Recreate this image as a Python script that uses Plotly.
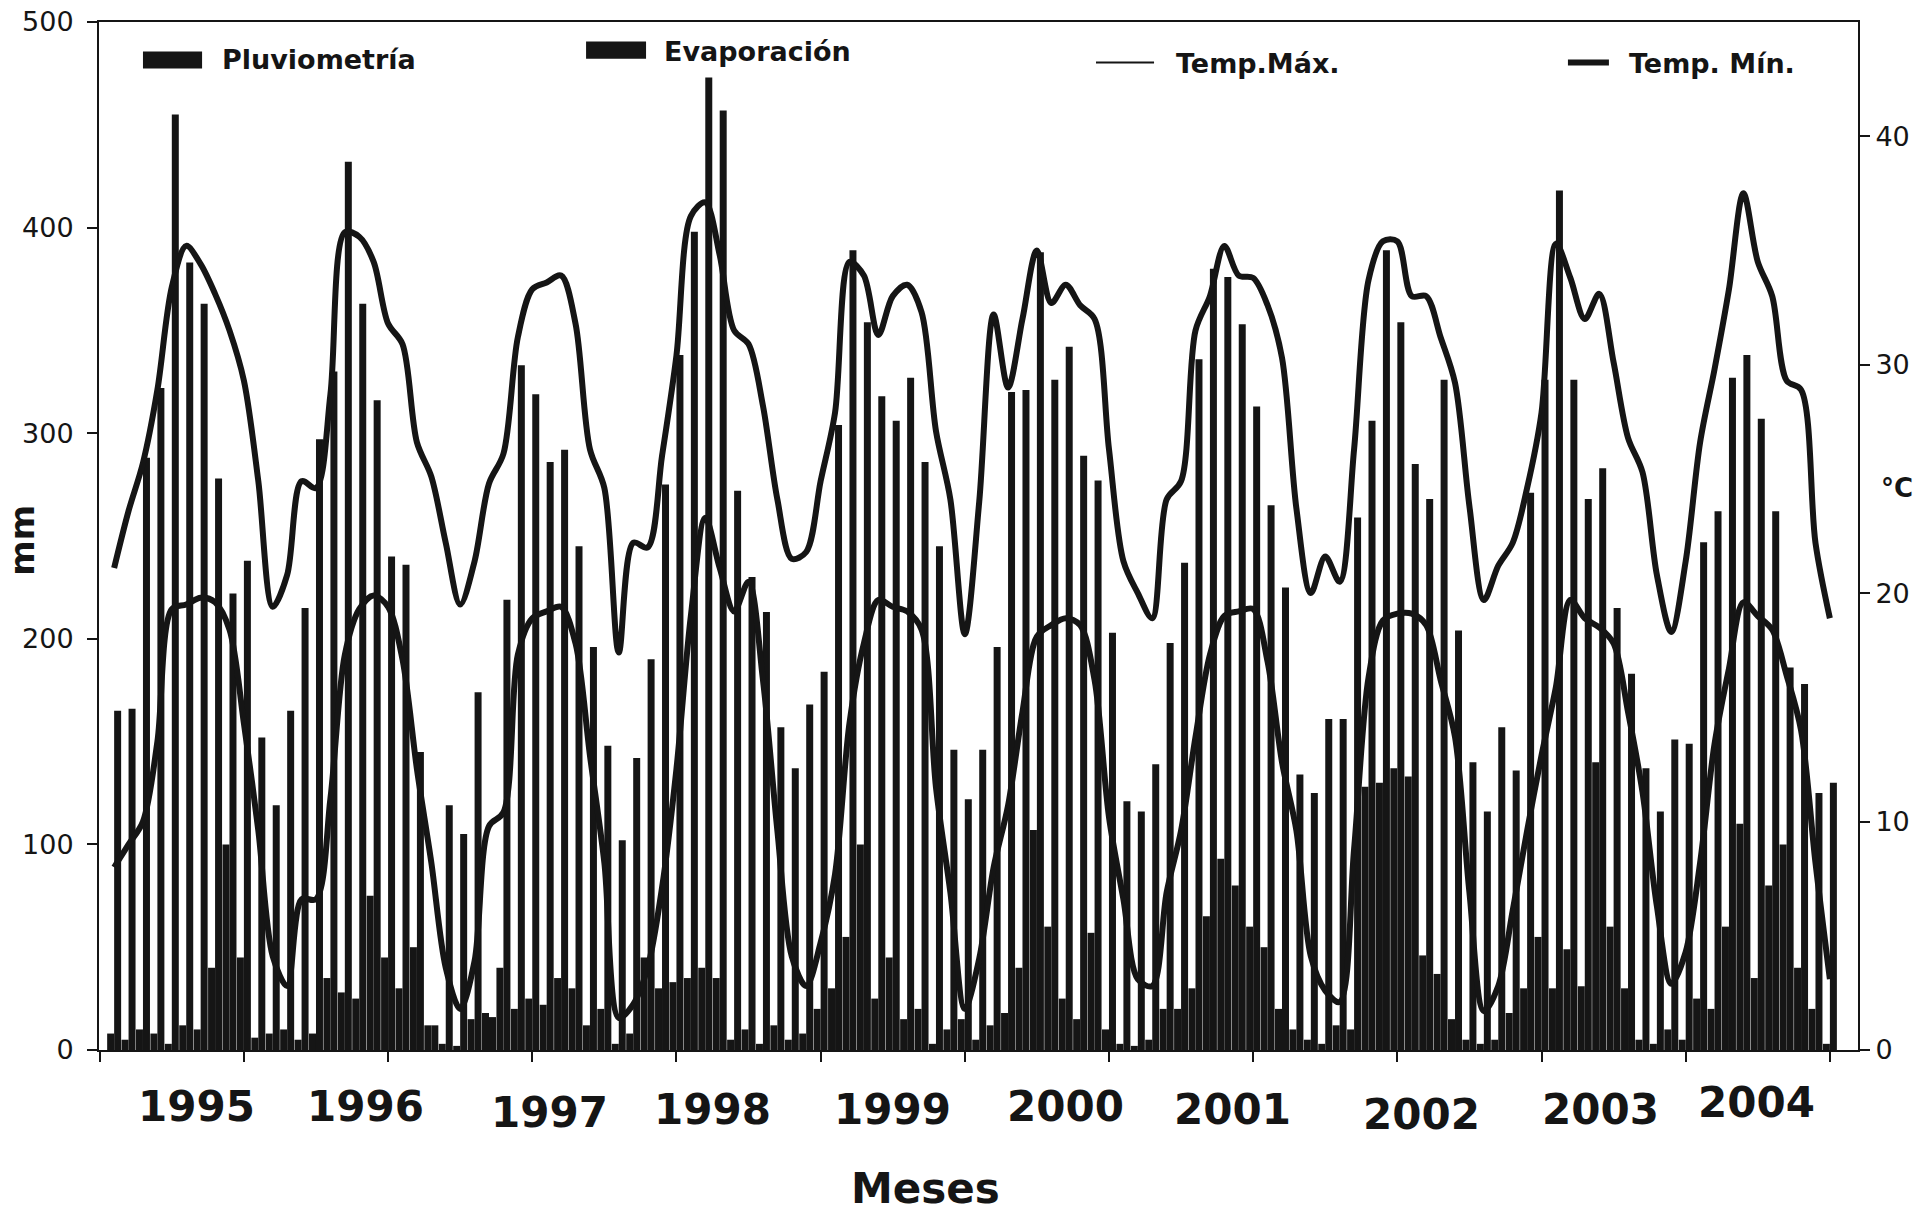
import plotly.graph_objects as go

# ---- monthly series, Jan 1995 .. Dec 2004 (120 months) ----
months = list(range(1, 121))

pluviometria = [
    8, 5, 10, 8, 3, 12, 10, 40, 100, 45, 6, 8,          # 1995
    10, 5, 8, 35, 28, 25, 75, 45, 30, 50, 12, 3,        # 1996
    2, 15, 18, 40, 20, 25, 22, 35, 30, 12, 20, 3,       # 1997
    8, 45, 30, 33, 35, 40, 35, 5, 10, 3, 12, 5,         # 1998
    8, 20, 30, 55, 100, 25, 45, 15, 20, 3, 10, 15,      # 1999
    5, 12, 18, 40, 107, 60, 25, 15, 57, 10, 3, 2,       # 2000
    5, 20, 20, 30, 65, 93, 80, 60, 50, 20, 10, 5,       # 2001
    3, 12, 10, 128, 130, 137, 133, 46, 37, 15, 5, 3,    # 2002
    5, 18, 30, 55, 30, 49, 31, 140, 60, 30, 5, 3,       # 2003
    10, 5, 25, 20, 60, 110, 35, 80, 100, 40, 20, 3,     # 2004
]

evaporacion = [
    165, 166, 288, 322, 455, 383, 363, 278, 222, 238, 152, 119,   # 1995
    165, 215, 297, 330, 432, 363, 316, 240, 236, 145, 12, 119,    # 1996
    105, 174, 16, 219, 333, 319, 286, 292, 245, 196, 148, 102,    # 1997
    142, 190, 275, 338, 398, 473, 457, 272, 230, 213, 157, 137,   # 1998
    168, 184, 304, 389, 354, 318, 306, 327, 286, 245, 146, 122,   # 1999
    146, 196, 320, 321, 388, 326, 342, 289, 277, 203, 121, 116,   # 2000
    139, 198, 237, 336, 380, 376, 353, 313, 265, 225, 134, 125,   # 2001
    161, 161, 259, 306, 389, 354, 285, 268, 326, 204, 140, 116,   # 2002
    157, 136, 271, 326, 418, 326, 268, 283, 215, 183, 137, 116,   # 2003
    151, 149, 247, 262, 327, 338, 307, 262, 186, 178, 125, 130,   # 2004
]

temp_max = [
    21.1, 23.6, 25.7, 28.9, 33.4, 35.2, 34.4, 33.1, 31.5, 29.3, 24.9, 19.4,
    20.8, 24.9, 24.6, 28.7, 35.8, 35.6, 34.5, 31.8, 30.9, 26.6, 25.1, 22.2,
    19.5, 21.4, 24.8, 26.1, 31.2, 33.3, 33.6, 33.9, 31.8, 26.3, 24.6, 17.4,
    22.2, 22.0, 26.0, 30.4, 36.5, 37.1, 34.8, 31.5, 30.9, 28.2, 24.1, 21.5,
    21.8, 24.9, 27.9, 34.5, 33.9, 31.3, 33.0, 33.5, 32.3, 27.1, 24.1, 18.2,
    24.0, 32.2, 29.0, 32.0, 35.0, 32.7, 33.5, 32.6, 32.0, 26.3, 21.4, 20.0,
    18.9, 24.1, 24.9, 31.5, 33.0, 35.2, 33.9, 33.8, 32.6, 30.3, 23.7, 20.0,
    21.6, 20.5, 26.3, 33.7, 35.4, 35.4, 33.0, 33.0, 31.2, 29.2, 23.8, 19.7,
    21.2, 22.2, 24.6, 27.9, 35.3, 33.8, 32.0, 33.1, 30.1, 26.8, 25.3, 20.8,
    18.3, 21.4, 26.6, 29.8, 33.3, 37.5, 34.5, 33.0, 29.3, 28.9, 22.2, 18.9,
]

temp_min = [
    8.0, 9.0, 10.0, 13.5, 19.3, 19.5, 19.8, 19.6, 18.4, 14.3, 9.6, 4.1,
    2.8, 6.6, 6.6, 11.0, 17.3, 19.3, 19.9, 19.4, 17.1, 12.3, 8.2, 3.6,
    1.8, 3.9, 9.8, 10.4, 17.3, 18.9, 19.2, 19.4, 17.8, 12.9, 8.2, 1.4,
    2.0, 3.6, 7.1, 12.3, 19.0, 23.3, 21.1, 19.2, 20.5, 16.2, 9.6, 4.1,
    2.8, 4.7, 7.7, 14.3, 17.8, 19.7, 19.4, 19.2, 18.4, 11.5, 6.9, 1.8,
    4.0, 8.0, 10.7, 14.8, 18.1, 18.6, 18.9, 18.6, 16.2, 10.2, 6.6, 3.1,
    2.8, 6.9, 9.6, 13.7, 17.3, 19.0, 19.2, 19.3, 17.0, 12.6, 9.6, 4.1,
    2.6, 2.1, 8.8, 16.3, 18.8, 19.1, 19.1, 18.6, 16.2, 13.7, 6.9, 1.7,
    2.8, 6.1, 9.6, 12.9, 15.9, 19.7, 18.9, 18.5, 17.8, 14.8, 11.3, 6.3,
    2.9, 4.3, 8.2, 13.4, 16.7, 19.6, 19.0, 18.4, 16.4, 14.0, 8.2, 3.1,
]

# year captions under the category axis (x in month units, y as paper offset)
year_labels = ["1995", "1996", "1997", "1998", "1999",
               "2000", "2001", "2002", "2003", "2004"]
year_label_x = [6.7, 18.4, 31.2, 42.5, 55.0, 67.0, 78.6, 91.7, 104.1, 114.9]
year_label_y = [-0.055, -0.055, -0.061, -0.058, -0.058,
                -0.055, -0.058, -0.063, -0.058, -0.051]

INK = "#151515"
FONT = "DejaVu Sans"

fig = go.Figure()

fig.add_trace(go.Bar(x=months, y=pluviometria, name="Pluviometría",
                     marker=dict(color=INK, line=dict(width=0)), yaxis="y"))
fig.add_trace(go.Bar(x=months, y=evaporacion, name="Evaporación",
                     marker=dict(color=INK, line=dict(width=0)), yaxis="y"))
fig.add_trace(go.Scatter(x=months, y=temp_max, name="Temp.Máx.", mode="lines",
                         line=dict(color=INK, width=6, shape="spline", smoothing=0.9),
                         yaxis="y2"))
fig.add_trace(go.Scatter(x=months, y=temp_min, name="Temp. Mín.", mode="lines",
                         line=dict(color=INK, width=6, shape="spline", smoothing=0.9),
                         yaxis="y2"))

fig.update_layout(
    width=1921, height=1213,
    margin=dict(l=99, r=63, t=6, b=163),
    paper_bgcolor="white", plot_bgcolor="white",
    showlegend=False,
    barmode="group", bargap=0.03, bargroupgap=0,
    font=dict(family=FONT, color=INK),
    xaxis=dict(range=[-0.05, 121.95], tickmode="linear", tick0=0, dtick=10,
               ticks="outside", ticklen=10, tickwidth=2, tickcolor=INK,
               showticklabels=False, showline=True, linecolor=INK, linewidth=2,
               mirror=True, showgrid=False, zeroline=False),
    yaxis=dict(range=[0, 500], tickmode="linear", tick0=0, dtick=100,
               ticks="outside", ticklen=10, tickwidth=2, tickcolor=INK,
               showline=True, linecolor=INK, linewidth=2, showgrid=False,
               zeroline=False, ticklabelstandoff=8, ticklabeloverflow="allow",
               tickfont=dict(family=FONT, size=27, color=INK)),
    yaxis2=dict(range=[0, 45], tickmode="linear", tick0=0, dtick=10,
                overlaying="y", side="right",
                ticks="outside", ticklen=10, tickwidth=2, tickcolor=INK,
                showline=True, linecolor=INK, linewidth=2, showgrid=False,
                zeroline=False, ticklabeloverflow="allow",
                tickfont=dict(family=FONT, size=27, color=INK)),
)

# year captions
for label, xv, yv in zip(year_labels, year_label_x, year_label_y):
    fig.add_annotation(x=xv, y=yv, xref="x", yref="paper", text=f"<b>{label}</b>",
                       showarrow=False, xanchor="center", yanchor="middle",
                       font=dict(family=FONT, size=42, color=INK))

# axis titles
fig.add_annotation(x=0.47, y=-0.1345, xref="paper", yref="paper", text="<b>Meses</b>",
                   showarrow=False, xanchor="center", yanchor="middle",
                   font=dict(family=FONT, size=42, color=INK))
fig.add_annotation(x=-0.0438, y=0.4964, xref="paper", yref="paper", text="<b>mm</b>",
                   showarrow=False, textangle=-90, xanchor="center", yanchor="middle",
                   font=dict(family=FONT, size=34, color=INK))
fig.add_annotation(x=1.0222, y=0.5464, xref="paper", yref="paper", text="<b>°C</b>",
                   showarrow=False, xanchor="center", yanchor="middle",
                   font=dict(family=FONT, size=26, color=INK))

# key drawn inside the plot area
KEY_FONT = dict(family=FONT, size=27, color=INK)
fig.add_shape(type="rect", xref="paper", yref="paper", x0=0.025, x1=0.0586,
              y0=0.9548, y1=0.9714, fillcolor=INK, line=dict(width=0))
fig.add_annotation(x=0.0688, y=0.9631, xref="paper", yref="paper",
                   xanchor="left", yanchor="middle",
                   text="<b>Pluviometría</b>", showarrow=False, font=KEY_FONT)
fig.add_shape(type="rect", xref="paper", yref="paper", x0=0.2769, x1=0.311,
              y0=0.9643, y1=0.981, fillcolor=INK, line=dict(width=0))
fig.add_annotation(x=0.32, y=0.9714, xref="paper", yref="paper",
                   xanchor="left", yanchor="middle",
                   text="<b>Evaporación</b>", showarrow=False, font=KEY_FONT)
fig.add_shape(type="line", xref="paper", yref="paper", x0=0.5668, x1=0.5998,
              y0=0.9607, y1=0.9607, line=dict(color=INK, width=2))
fig.add_annotation(x=0.6111, y=0.9595, xref="paper", yref="paper",
                   xanchor="left", yanchor="middle",
                   text="<b>Temp.Máx.</b>", showarrow=False, font=KEY_FONT)
fig.add_shape(type="line", xref="paper", yref="paper", x0=0.8351, x1=0.8584,
              y0=0.9607, y1=0.9607, line=dict(color=INK, width=6))
fig.add_annotation(x=0.8687, y=0.9595, xref="paper", yref="paper",
                   xanchor="left", yanchor="middle",
                   text="<b>Temp. Mín.</b>", showarrow=False, font=KEY_FONT)

fig.write_html("out.html")
